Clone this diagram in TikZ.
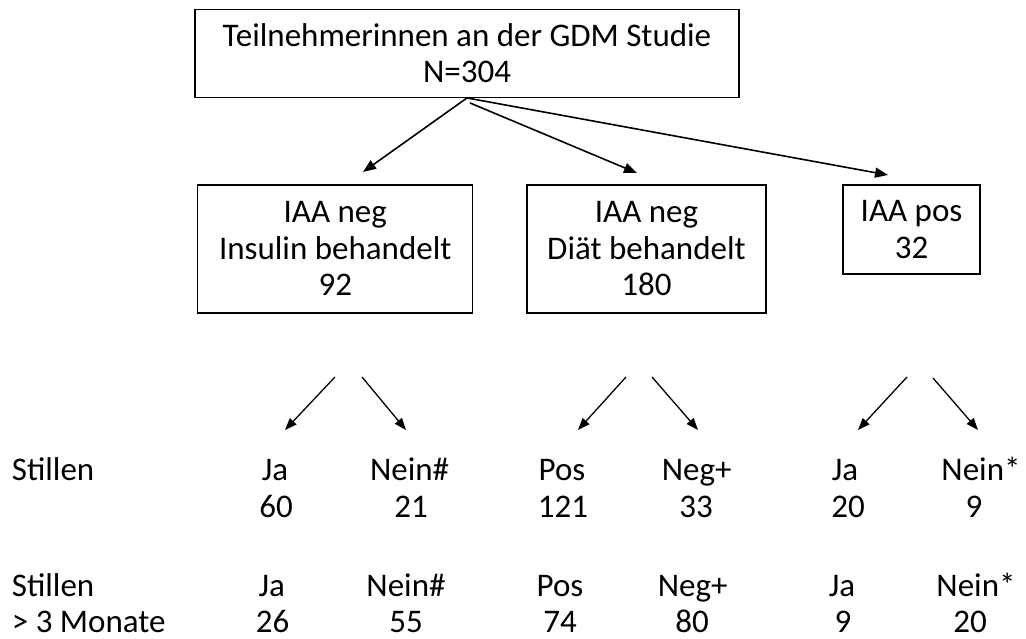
\documentclass[tikz,border=0pt]{standalone}
\usepackage{fontspec}
\setmainfont{Carlito}
\usetikzlibrary{arrows.meta}
\begin{document}
\begin{tikzpicture}[x=1pt,y=-1pt,
  box/.style={draw=black, line width=1.3pt, align=center, inner sep=0pt, font=\fontsize{33}{36.5}\selectfont},
  lbl/.style={inner sep=0pt, anchor=base, font=\fontsize{33}{36.5}\selectfont},
  lblw/.style={lbl, anchor=base west},
  arr/.style={line width=1.6pt, -{Triangle[length=13pt,width=10pt]}},
  arrs/.style={line width=1.3pt, -{Triangle[length=12pt,width=9pt]}}]
\useasboundingbox[fill=white] (0,0) rectangle (1026,639);

% boxes
\node[box, minimum width=544pt, minimum height=88pt] (top) at (467,53.3) {Teilnehmerinnen an der GDM Studie\\N=304};
\node[box, minimum width=275pt, minimum height=128pt] (ins) at (335.3,248.9) {IAA neg\\Insulin behandelt\\92};
\node[box, minimum width=239pt, minimum height=128pt] (diat) at (646.5,248.9) {IAA neg\\Diät behandelt\\180};
\node[box, minimum width=137pt, minimum height=89pt] (pos) at (911.5,229.5) {IAA pos\\32};

% top arrows
\coordinate (t1) at (363,172);
\coordinate (t2) at (637,173);
\coordinate (t3) at (888,175);
\draw[arr] (top.south) -- (t1);
\draw[arr] ([xshift=3pt,yshift=-5pt]top.south) -- (t2);
\draw[arr] (top.south) -- (t3);

% lower arrows
\coordinate (a1s) at (335,377); \coordinate (a1e) at (285,430);
\coordinate (b1s) at (362,377); \coordinate (b1e) at (406,430);
\coordinate (a2s) at (626,377); \coordinate (a2e) at (578,430);
\coordinate (b2s) at (652,377); \coordinate (b2e) at (698,430);
\coordinate (a3s) at (907,377); \coordinate (a3e) at (858,430);
\coordinate (b3s) at (933,378); \coordinate (b3e) at (978,430);
\draw[arrs] (a1s) -- (a1e);
\draw[arrs] (b1s) -- (b1e);
\draw[arrs] (a2s) -- (a2e);
\draw[arrs] (b2s) -- (b2e);
\draw[arrs] (a3s) -- (a3e);
\draw[arrs] (b3s) -- (b3e);

% row 1
\node[lblw] (s1) at (11.7,480) {Stillen};
\node[lbl] (r1c1) at (275,480) {Ja};
\node[lbl] (r1c2) at (409.6,480) {Nein\#};
\node[lbl] (r1c3) at (562,480) {Pos};
\node[lbl] (r1c4) at (696.6,480) {Neg+};
\node[lbl] (r1c5) at (845,480) {Ja};
\node[lbl] (r1c6) at (981,480) {Nein*};
\node[lbl] (n1c1) at (276,517) {60};
\node[lbl] (n1c2) at (411,517) {21};
\node[lbl] (n1c3) at (563,517) {121};
\node[lbl] (n1c4) at (696,517) {33};
\node[lbl] (n1c5) at (848,517) {20};
\node[lbl] (n1c6) at (974,517) {9};

% row 2
\node[lblw] (s2) at (11.7,596) {Stillen};
\node[lblw] (m2) at (11.7,632) {> 3 Monate};
\node[lbl] (r2c1) at (271.7,596) {Ja};
\node[lbl] (r2c2) at (406,596) {Nein\#};
\node[lbl] (r2c3) at (560,596) {Pos};
\node[lbl] (r2c4) at (692.6,596) {Neg+};
\node[lbl] (r2c5) at (842,596) {Ja};
\node[lbl] (r2c6) at (976,596) {Nein*};
\node[lbl] (n2c1) at (272.5,632) {26};
\node[lbl] (n2c2) at (406,632) {55};
\node[lbl] (n2c3) at (560,632) {74};
\node[lbl] (n2c4) at (692,632) {80};
\node[lbl] (n2c5) at (843,632) {9};
\node[lbl] (n2c6) at (970,632) {20};
\end{tikzpicture}
\end{document}
